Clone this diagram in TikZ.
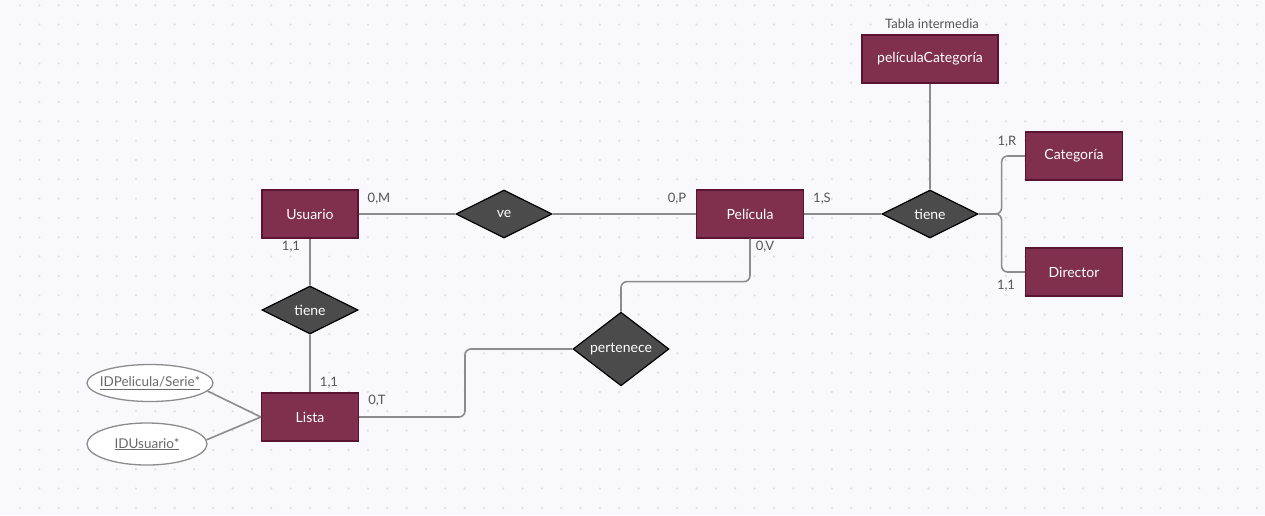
\documentclass[tikz,border=0pt]{standalone}
\usepackage{fontspec}
\setmainfont{Lato}
\usetikzlibrary{shapes.geometric}
\definecolor{bg}{HTML}{F9F9FB}
\definecolor{dotc}{HTML}{E0E0E5}
\definecolor{entfill}{HTML}{80304C}
\definecolor{entdraw}{HTML}{5A1430}
\definecolor{relfill}{HTML}{4B4B4B}
\definecolor{linec}{HTML}{8C8C8C}
\definecolor{labc}{HTML}{555555}
\definecolor{attrc}{HTML}{6A6A6A}
\begin{document}
\begin{tikzpicture}[x=1pt,y=-1pt,
  entity/.style={rectangle, draw=entdraw, line width=1.3pt, fill=entfill, text=white,
    minimum width=96pt, minimum height=48pt, inner sep=0pt, font=\fontsize{14}{16}\selectfont},
  relation/.style={diamond, draw=black, line width=1.2pt, fill=relfill, text=white,
    minimum width=96pt, minimum height=48pt, inner sep=0pt, font=\fontsize{14}{16}\selectfont},
  attribute/.style={ellipse, draw=linec, line width=1.3pt, fill=white, text=attrc,
    inner sep=0pt, font=\fontsize{13.5}{16}\selectfont},
  card/.style={text=labc, inner sep=0pt, font=\fontsize{13}{15}\selectfont},
  conn/.style={draw=linec, line width=1.6pt, rounded corners=6pt}]

% canvas with dotted grid
\fill[bg] (0,0) rectangle (1265,515);
\useasboundingbox (0,0) rectangle (1265,515);
\foreach \i in {0,...,65}
  \foreach \j in {0,...,26}
    \fill[dotc] ({20+19.33*\i},{5.3+19.33*\j}) circle (1.3);

% entities
\node[entity] (usuario) at (310,214) {Usuario};
\node[entity, minimum width=107pt] (pelicula) at (750,214) {Película};
\node[entity, minimum width=136pt] (pelcat) at (930,59) {películaCategoría};
\node[entity, minimum width=97pt] (categoria) at (1074,156) {Categoría};
\node[entity, minimum width=97pt] (director) at (1074,272) {Director};
\node[entity, minimum width=97pt] (lista) at (310,417) {Lista};

% relationships
\node[relation] (ve) at (504,214) {ve};
\node[relation] (tieneR) at (930,214) {tiene};
\node[relation] (tieneL) at (310,310) {tiene};
\node[relation] (pertenece) at (621,349) {pertenece};

% attributes (key fields, underlined)
\node[attribute, inner xsep=-8pt, minimum width=126pt, minimum height=37pt] (idpel) at (150,383) {\underline{IDPelicula/Serie*}};
\node[attribute, minimum width=120pt, minimum height=42pt] (idusu) at (147,444) {\underline{IDUsuario*}};

% annotation
\node[card, font=\fontsize{13}{15}\selectfont] (tabla) at (932,24) {Tabla intermedia};

% connectors
\draw[conn] (usuario.east) -- (ve.west);
\draw[conn] (ve.east) -- (pelicula.west);
\draw[conn] (pelicula.east) -- (tieneR.west);
\draw[conn] (tieneR.north) -- (pelcat.south);
\draw[conn] (tieneR.east) -- ++(23,0) |- (categoria.west);
\draw[conn] (tieneR.east) -- ++(23,0) |- (director.west);
\draw[conn] (pelicula.south) -- ++(0,43) -| (pertenece.north);
\coordinate (bend) at (465,0);
\draw[conn] (pertenece.west) -| (bend |- lista.east) -- (lista.east);
\draw[conn] (usuario.south) -- (tieneL.north);
\draw[conn] (tieneL.south) -- (lista.north);
\draw[conn] (idpel.-8) -- (lista.west);
\draw[conn] (idusu.4) -- (lista.west);

% cardinalities
\node[card] (cM) at (379,199) {0,M};
\node[card] (cP) at (677,199) {0,P};
\node[card] (cS) at (822,199) {1,S};
\node[card] (cV) at (765,247) {0,V};
\node[card] (cR) at (1007,142) {1,R};
\node[card] (cD) at (1006,286) {1,1};
\node[card] (cU) at (291,247) {1,1};
\node[card] (cL) at (329,383) {1,1};
\node[card] (cT) at (377,401) {0,T};
\end{tikzpicture}
\end{document}
